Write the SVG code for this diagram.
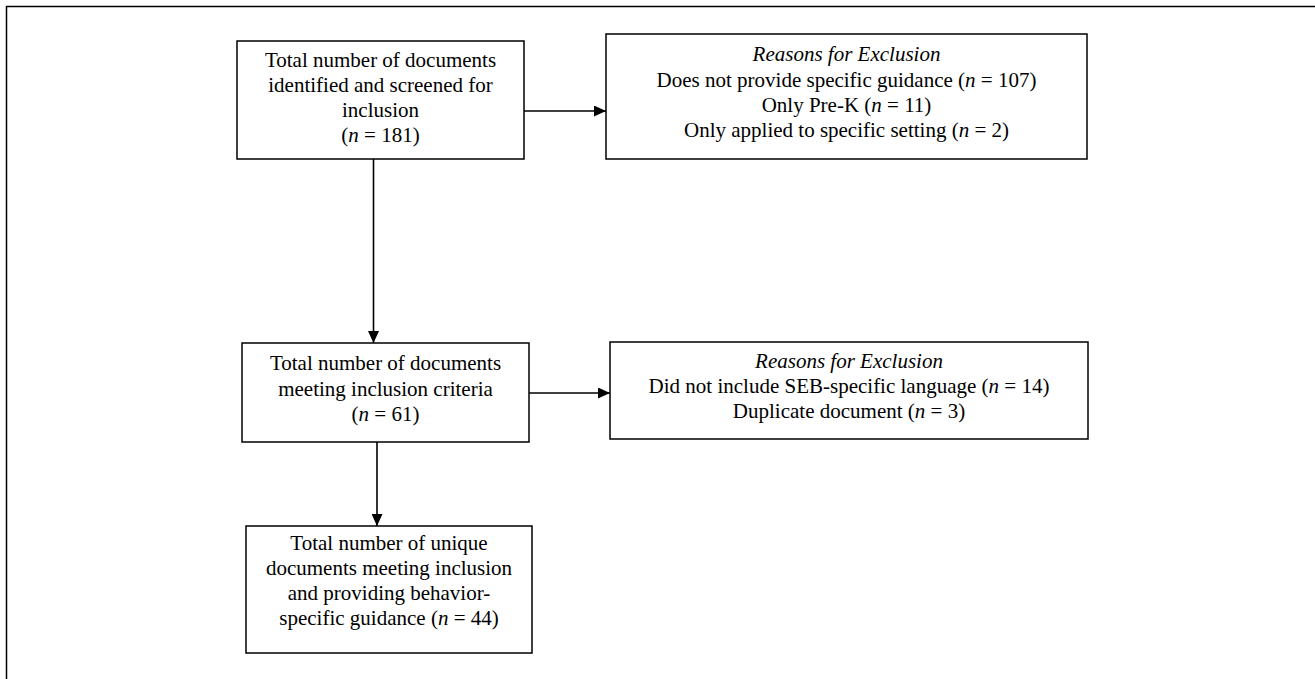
<svg xmlns="http://www.w3.org/2000/svg" width="1315" height="679" viewBox="0 0 1315 679">
<defs>
<style>
.box{fill:#fff;stroke:#000;stroke-width:1.5}
.t{font-family:"Liberation Serif","Times New Roman",serif;font-size:21px;fill:#000;text-anchor:middle}
.i{font-style:italic}
.c{stroke:#000;stroke-width:1.6;fill:none}
</style>
<marker id="ah" markerUnits="userSpaceOnUse" markerWidth="13" markerHeight="11" refX="12" refY="5.5" orient="auto">
<path d="M0,0 L12,5.5 L0,11 Z" fill="#000"/>
</marker>
</defs>
<rect x="0" y="0" width="1315" height="679" fill="#fff"/>
<rect x="6.5" y="6.5" width="1400" height="800" fill="none" stroke="#000" stroke-width="1.5"/>
<g id="connectors">
<line class="c" x1="524" y1="111" x2="606" y2="111" marker-end="url(#ah)"/>
<line class="c" x1="373.5" y1="159" x2="373.5" y2="343" marker-end="url(#ah)"/>
<line class="c" x1="529" y1="393" x2="610" y2="393" marker-end="url(#ah)"/>
<line class="c" x1="377" y1="442" x2="377" y2="526" marker-end="url(#ah)"/>
</g>
<g id="n1">
<rect class="box" x="237" y="41" width="287" height="118"/>
<text class="t" x="380.5" y="67">Total number of documents</text>
<text class="t" x="380.5" y="92">identified and screened for</text>
<text class="t" x="380.5" y="117">inclusion</text>
<text class="t" x="380.5" y="142">(<tspan class="i">n</tspan> = 181)</text>
</g>
<g id="n2">
<rect class="box" x="606" y="34" width="481" height="125"/>
<text class="t i" x="846.5" y="61">Reasons for Exclusion</text>
<text class="t" x="846.5" y="86.5">Does not provide specific guidance (<tspan class="i">n</tspan> = 107)</text>
<text class="t" x="846.5" y="111.5">Only Pre-K (<tspan class="i">n</tspan> = 11)</text>
<text class="t" x="846.5" y="137">Only applied to specific setting (<tspan class="i">n</tspan> = 2)</text>
</g>
<g id="n3">
<rect class="box" x="242" y="343" width="287" height="99"/>
<text class="t" x="385.5" y="370">Total number of documents</text>
<text class="t" x="385.5" y="395.5">meeting inclusion criteria</text>
<text class="t" x="385.5" y="421">(<tspan class="i">n</tspan> = 61)</text>
</g>
<g id="n4">
<rect class="box" x="610" y="342" width="478" height="97"/>
<text class="t i" x="849" y="368">Reasons for Exclusion</text>
<text class="t" x="849" y="393">Did not include SEB-specific language (<tspan class="i">n</tspan> = 14)</text>
<text class="t" x="849" y="418">Duplicate document (<tspan class="i">n</tspan> = 3)</text>
</g>
<g id="n5">
<rect class="box" x="246" y="526" width="286" height="127"/>
<text class="t" x="389" y="550">Total number of unique</text>
<text class="t" x="389" y="575">documents meeting inclusion</text>
<text class="t" x="389" y="600">and providing behavior-</text>
<text class="t" x="389" y="625">specific guidance (<tspan class="i">n</tspan> = 44)</text>
</g>
</svg>
